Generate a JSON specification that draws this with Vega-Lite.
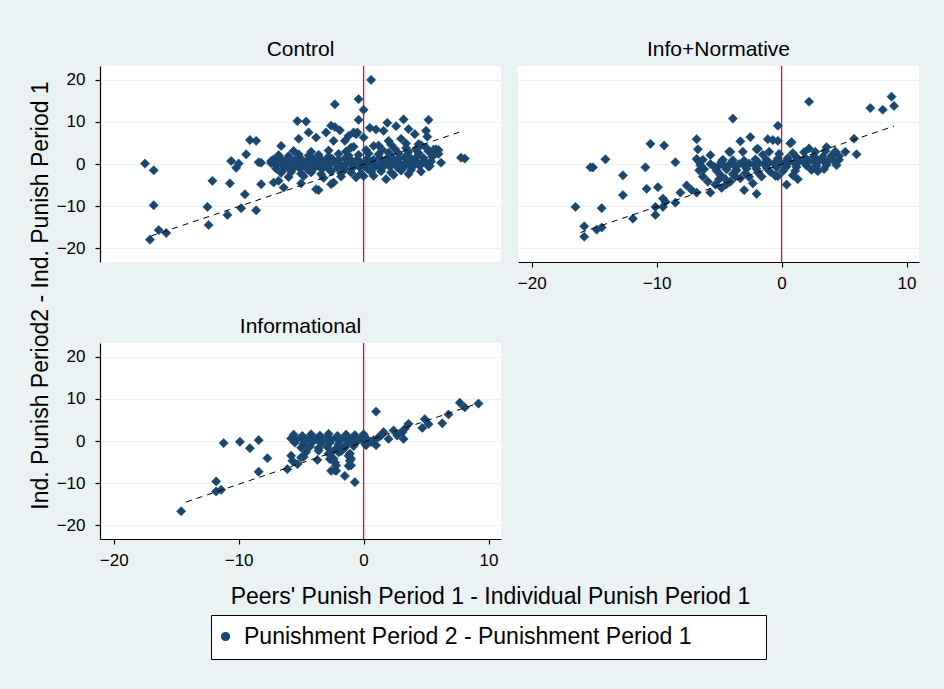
{
  "$schema": "https://vega.github.io/schema/vega-lite/v6.json",
  "background": "#EAF2F3",
  "padding": {"left": 28, "top": 39, "right": 25, "bottom": 31},
  "config": {
    "font": "Liberation Sans",
    "view": {"stroke": null, "fill": "white"},
    "title": {"font": "Liberation Sans", "fontSize": 21, "fontWeight": "normal", "color": "black", "baseline": "alphabetic", "offset": 5, "anchor": "middle", "frame": "group"},
    "axis": {"labelFont": "Liberation Sans", "labelFontSize": 17, "labelColor": "black", "domainColor": "black", "domainWidth": 1.2, "tickColor": "black", "tickWidth": 1.2, "tickSize": 5, "gridColor": "#EAF2F3", "gridWidth": 1.2, "titleFont": "Liberation Sans", "titleFontSize": 23, "titleFontWeight": "normal", "titleColor": "black"},
    "axisY": {"labelPadding": 10, "labelAngle": 0},
    "axisX": {"labelPadding": 8, "grid": false},
    "legend": {"orient": "none", "legendX": 111, "legendY": 549, "title": null, "symbolType": "circle", "symbolSize": 60, "symbolOffset": -7, "symbolFillColor": "#1A476F", "symbolStrokeColor": "#1A476F", "labelFont": "Liberation Sans", "labelFontSize": 23, "labelColor": "black", "labelOffset": 7, "labelLimit": 0, "padding": 10, "strokeColor": "black", "fillColor": "white"}
  },
  "datasets": {
    "control": [
      {"x":-17.5,"y":0.1},{"x":-16.8,"y":-1.5},{"x":-16.8,"y":-9.8},{"x":-16.4,"y":-15.7},{"x":-15.8,"y":-16.4},{"x":-17.1,"y":-18.0},
      {"x":-12.4,"y":-14.5},{"x":-12.5,"y":-10.2},{"x":-12.1,"y":-4.0},{"x":-10.9,"y":-12.1},{"x":-10.7,"y":-4.6},{"x":-10.6,"y":0.7},
      {"x":-10.2,"y":-0.9},{"x":-10.0,"y":0.1},{"x":-9.4,"y":2.3},{"x":-9.1,"y":5.7},{"x":-8.6,"y":5.5},{"x":-9.8,"y":-10.5},
      {"x":-9.5,"y":-7.2},{"x":-8.6,"y":-11.0},{"x":-8.4,"y":0.4},{"x":-8.2,"y":0.3},{"x":-8.2,"y":-4.8},{"x":-7.2,"y":-4.4},
      {"x":-6.8,"y":-4.0},{"x":-6.4,"y":-5.6},{"x":-7.4,"y":0.7},{"x":-6.6,"y":4.3},{"x":-5.3,"y":10.2},{"x":-4.6,"y":10.1},
      {"x":-5.2,"y":6.0},{"x":-3.8,"y":6.3},{"x":-4.4,"y":7.5},{"x":-3.0,"y":7.5},{"x":-2.6,"y":9.1},{"x":-2.3,"y":8.8},
      {"x":-1.9,"y":8.0},{"x":-2.4,"y":5.5},{"x":-2.3,"y":14.2},{"x":-0.4,"y":15.4},{"x":0.0,"y":12.9},{"x":-0.4,"y":10.5},
      {"x":0.6,"y":20.0},{"x":-1.2,"y":6.7},{"x":-0.8,"y":7.5},{"x":-0.6,"y":7.1},{"x":-1.0,"y":3.9},{"x":0.0,"y":6.3},
      {"x":0.5,"y":8.6},{"x":1.0,"y":8.2},{"x":1.6,"y":7.9},{"x":1.9,"y":9.8},{"x":2.6,"y":9.0},{"x":3.2,"y":10.6},
      {"x":3.6,"y":8.3},{"x":4.1,"y":7.1},{"x":5.2,"y":10.5},{"x":5.0,"y":7.9},{"x":5.1,"y":6.5},{"x":3.0,"y":6.0},
      {"x":2.0,"y":5.5},{"x":1.2,"y":4.4},{"x":4.4,"y":4.7},{"x":5.8,"y":3.5},{"x":5.3,"y":-0.5},{"x":6.2,"y":0.3},
      {"x":7.8,"y":1.5},{"x":8.1,"y":1.3},{"x":6.0,"y":3.3},{"x":1.8,"y":-3.6},{"x":0.0,"y":-2.9},{"x":-3.8,"y":-6.0},
      {"x":-3.6,"y":-6.2},{"x":-2.4,"y":-4.4},{"x":-2.6,"y":-4.8},{"x":-5.0,"y":-4.6},{"x":-1.5,"y":5.5},{"x":-0.5,"y":7.5},
      {"x":-7.4,"y":0.2},{"x":-7.0,"y":-0.3},{"x":-6.6,"y":0.1},{"x":-6.2,"y":0.4},{"x":-5.8,"y":-0.2},{"x":-5.4,"y":0.3},
      {"x":-5.0,"y":0.0},{"x":-4.6,"y":-0.4},{"x":-4.2,"y":0.2},{"x":-3.8,"y":0.0},{"x":-3.4,"y":0.3},{"x":-3.0,"y":-0.2},
      {"x":-2.6,"y":0.1},{"x":-2.2,"y":0.4},{"x":-1.8,"y":-0.3},{"x":-1.4,"y":0.0},{"x":-1.0,"y":0.2},{"x":-0.6,"y":-0.1},
      {"x":-0.2,"y":0.3},{"x":0.2,"y":0.0},{"x":0.6,"y":0.4},{"x":1.0,"y":-0.2},{"x":1.4,"y":0.1},{"x":1.8,"y":0.5},
      {"x":2.2,"y":0.0},{"x":2.6,"y":0.3},{"x":3.0,"y":-0.1},{"x":3.4,"y":0.4},{"x":3.8,"y":0.2},{"x":4.2,"y":0.6},
      {"x":4.6,"y":0.1},{"x":5.0,"y":0.3},
      {"x":-7.2,"y":1.1},{"x":-6.5,"y":0.9},{"x":-6.0,"y":1.3},{"x":-5.5,"y":1.0},{"x":-5.0,"y":1.2},{"x":-4.5,"y":0.8},
      {"x":-4.0,"y":1.1},{"x":-3.5,"y":1.4},{"x":-3.0,"y":0.9},{"x":-2.5,"y":1.2},{"x":-2.0,"y":1.0},{"x":-1.5,"y":1.3},
      {"x":-1.0,"y":0.9},{"x":-0.5,"y":1.1},{"x":0.3,"y":1.3},{"x":0.8,"y":1.0},{"x":1.3,"y":1.4},{"x":1.8,"y":1.1},
      {"x":2.3,"y":1.5},{"x":2.8,"y":1.2},{"x":3.3,"y":1.6},{"x":3.8,"y":1.3},{"x":4.3,"y":1.8},{"x":4.8,"y":1.4},{"x":5.5,"y":1.7},
      {"x":-7.0,"y":-1.1},{"x":-6.3,"y":-0.9},{"x":-5.7,"y":-1.2},{"x":-5.1,"y":-1.0},{"x":-4.5,"y":-1.3},{"x":-3.9,"y":-0.8},
      {"x":-3.3,"y":-1.1},{"x":-2.7,"y":-1.4},{"x":-2.1,"y":-0.9},{"x":-1.5,"y":-1.2},{"x":-0.9,"y":-1.0},{"x":-0.3,"y":-0.8},
      {"x":0.3,"y":-1.1},{"x":0.9,"y":-0.7},{"x":1.5,"y":-0.9},{"x":2.1,"y":-0.6},{"x":2.7,"y":-0.8},{"x":3.3,"y":-0.5},
      {"x":3.9,"y":-0.7},{"x":4.5,"y":-0.4},{"x":5.2,"y":-0.6},
      {"x":-6.8,"y":2.1},{"x":-6.0,"y":1.9},{"x":-5.2,"y":2.3},{"x":-4.4,"y":2.0},{"x":-3.6,"y":2.2},{"x":-2.8,"y":1.8},
      {"x":-2.0,"y":2.4},{"x":-1.2,"y":2.0},{"x":-0.4,"y":2.2},{"x":0.4,"y":2.5},{"x":1.2,"y":2.3},{"x":2.0,"y":2.7},
      {"x":2.8,"y":2.5},{"x":3.6,"y":2.9},{"x":4.4,"y":2.6},{"x":5.2,"y":3.0},{"x":6.0,"y":2.4},
      {"x":-6.6,"y":-2.1},{"x":-5.8,"y":-1.9},{"x":-5.0,"y":-2.3},{"x":-4.2,"y":-2.0},{"x":-3.4,"y":-2.4},{"x":-2.6,"y":-1.8},
      {"x":-1.8,"y":-2.2},{"x":-1.0,"y":-2.0},{"x":-0.2,"y":-2.3},{"x":0.6,"y":-1.9},{"x":1.4,"y":-1.7},{"x":2.2,"y":-2.0},
      {"x":3.0,"y":-1.6},{"x":3.8,"y":-1.4},{"x":4.6,"y":-1.8},
      {"x":-5.6,"y":3.1},{"x":-4.2,"y":2.9},{"x":-2.8,"y":3.2},{"x":-1.4,"y":3.0},{"x":0.2,"y":3.3},{"x":1.5,"y":3.4},
      {"x":2.5,"y":3.6},{"x":3.4,"y":3.8},{"x":4.2,"y":3.5},{"x":5.0,"y":3.9},{"x":5.6,"y":3.4},
      {"x":-6.0,"y":-3.1},{"x":-4.8,"y":-2.9},{"x":-3.2,"y":-3.3},{"x":-1.8,"y":-3.0},{"x":-0.6,"y":-3.2},{"x":0.8,"y":-2.8},
      {"x":2.4,"y":-2.6},{"x":3.6,"y":-2.4},
      {"x":0.8,"y":4.3},{"x":2.2,"y":4.6},{"x":3.4,"y":4.9},{"x":4.6,"y":4.5},{"x":-0.8,"y":4.1},
      {"x":-6.9,"y":0.6},{"x":-6.1,"y":-0.6},{"x":-5.3,"y":-0.5},{"x":-4.4,"y":0.5},{"x":-3.6,"y":-0.5},{"x":-2.8,"y":0.6},
      {"x":-2.0,"y":-0.5},{"x":-1.2,"y":0.6},{"x":-0.4,"y":-0.4},{"x":0.4,"y":0.7},{"x":1.2,"y":-0.4},{"x":2.0,"y":0.8},
      {"x":2.8,"y":-0.3},{"x":3.6,"y":0.9},{"x":4.4,"y":-0.1},{"x":5.4,"y":0.6}
    ],
    "infonorm": [
      {"x":-16.5,"y":-10.2},{"x":-15.8,"y":-14.8},{"x":-15.8,"y":-17.3},{"x":-15.3,"y":-0.8},{"x":-15.1,"y":-0.8},{"x":-14.8,"y":-15.6},
      {"x":-14.4,"y":-15.1},{"x":-14.4,"y":-10.5},{"x":-14.1,"y":1.1},{"x":-12.7,"y":-2.7},{"x":-12.7,"y":-7.4},{"x":-11.9,"y":-13.0},
      {"x":-10.9,"y":-0.8},{"x":-10.8,"y":-5.9},{"x":-10.5,"y":4.8},{"x":-10.1,"y":-10.2},{"x":-10.1,"y":-12.1},{"x":-9.9,"y":-5.5},
      {"x":-9.5,"y":-8.2},{"x":-9.3,"y":-9.0},{"x":-9.5,"y":-10.2},{"x":-9.4,"y":4.4},{"x":-8.5,"y":0.4},{"x":-8.5,"y":-9.2},
      {"x":-8.1,"y":-6.8},{"x":-7.6,"y":-5.1},{"x":-7.2,"y":-6.2},{"x":-6.8,"y":5.9},{"x":-6.7,"y":3.5},{"x":-6.8,"y":1.2},
      {"x":-6.6,"y":0.5},{"x":-6.5,"y":-0.3},{"x":-6.3,"y":1.0},{"x":-6.2,"y":-1.2},{"x":-6.6,"y":-1.5},{"x":-5.7,"y":2.1},
      {"x":-5.7,"y":0.0},{"x":-5.7,"y":-6.8},{"x":-6.8,"y":-6.8},{"x":-4.7,"y":1.0},{"x":-4.1,"y":2.9},{"x":-3.9,"y":10.8},
      {"x":-3.3,"y":5.4},{"x":-2.5,"y":6.4},{"x":-2.0,"y":3.5},{"x":-3.1,"y":2.9},{"x":-4.2,"y":2.9},{"x":-1.9,"y":3.6},
      {"x":-1.1,"y":5.9},{"x":-0.7,"y":5.7},{"x":-0.3,"y":5.5},{"x":-0.3,"y":9.1},{"x":-1.0,"y":2.9},{"x":0.8,"y":5.2},
      {"x":0.7,"y":4.9},{"x":2.2,"y":14.8},{"x":7.1,"y":13.3},{"x":8.1,"y":12.9},{"x":8.8,"y":16.0},{"x":9.0,"y":13.8},
      {"x":5.8,"y":6.0},{"x":6.0,"y":2.3},{"x":5.1,"y":2.9},{"x":3.6,"y":4.0},{"x":2.2,"y":3.7},{"x":0.4,"y":-4.9},
      {"x":-2.0,"y":-7.1},{"x":-3.0,"y":-6.2},{"x":-2.3,"y":-4.6},{"x":1.3,"y":-3.6},{"x":-0.3,"y":-2.9},{"x":2.9,"y":-1.7},
      {"x":-6.3,"y":-3.0},{"x":-5.9,"y":-4.2},{"x":-5.3,"y":-4.9},{"x":-4.8,"y":-5.7},{"x":-4.1,"y":-4.2},{"x":-3.7,"y":-3.0},
      {"x":-5.0,"y":-3.6},{"x":-4.4,"y":-4.8},
      {"x":-5.4,"y":-0.6},{"x":-5.0,"y":-0.3},{"x":-4.6,"y":-0.5},{"x":-4.2,"y":-0.2},{"x":-3.8,"y":-0.4},{"x":-3.4,"y":0.0},
      {"x":-3.0,"y":-0.3},{"x":-2.6,"y":0.1},{"x":-2.2,"y":-0.2},{"x":-1.8,"y":0.2},{"x":-1.4,"y":0.0},{"x":-1.0,"y":0.3},
      {"x":-0.6,"y":0.1},{"x":-0.2,"y":0.4},{"x":0.2,"y":0.2},{"x":0.6,"y":0.5},{"x":1.0,"y":0.3},{"x":1.4,"y":0.6},
      {"x":1.8,"y":0.4},{"x":2.2,"y":0.7},{"x":2.6,"y":0.5},{"x":3.0,"y":0.8},{"x":3.4,"y":0.6},{"x":3.8,"y":0.9},
      {"x":4.2,"y":0.7},{"x":4.6,"y":1.0},
      {"x":-4.8,"y":0.6},{"x":-3.9,"y":0.9},{"x":-3.0,"y":0.8},{"x":-2.1,"y":1.1},{"x":-1.2,"y":1.0},{"x":-0.3,"y":1.3},
      {"x":0.5,"y":1.4},{"x":1.2,"y":1.6},{"x":1.9,"y":1.5},{"x":2.6,"y":1.8},{"x":3.3,"y":1.7},{"x":4.0,"y":2.0},{"x":4.6,"y":1.9},
      {"x":-5.2,"y":-1.6},{"x":-4.4,"y":-1.3},{"x":-3.6,"y":-1.5},{"x":-2.8,"y":-1.1},{"x":-2.0,"y":-1.2},{"x":-1.2,"y":-0.9},
      {"x":-0.4,"y":-0.8},{"x":0.4,"y":-0.6},{"x":1.2,"y":-0.7},{"x":2.0,"y":-0.4},{"x":2.8,"y":-0.5},{"x":3.6,"y":-0.2},{"x":4.4,"y":-0.3},
      {"x":-1.5,"y":2.2},{"x":-0.2,"y":2.4},{"x":0.9,"y":2.6},{"x":1.8,"y":2.8},{"x":2.7,"y":2.9},{"x":3.5,"y":3.1},{"x":4.3,"y":3.0},
      {"x":-4.9,"y":-2.6},{"x":-3.9,"y":-2.4},{"x":-2.9,"y":-2.2},{"x":-1.9,"y":-2.0},{"x":-0.9,"y":-1.9},{"x":0.1,"y":-1.7},
      {"x":1.1,"y":-1.6},{"x":2.4,"y":-1.4},{"x":3.4,"y":-1.2},
      {"x":-4.5,"y":-3.6},{"x":-3.3,"y":-3.4},{"x":-2.6,"y":-3.1},{"x":-1.6,"y":-3.0},{"x":-0.5,"y":-2.8},{"x":0.9,"y":-2.7}
    ],
    "informational": [
      {"x":-14.6,"y":-16.7},{"x":-11.8,"y":-9.6},{"x":-11.8,"y":-12.0},{"x":-11.4,"y":-11.6},{"x":-11.2,"y":-0.5},{"x":-9.9,"y":-0.2},
      {"x":-9.1,"y":-1.7},{"x":-8.4,"y":0.2},{"x":-8.4,"y":-7.3},{"x":-7.7,"y":-4.1},{"x":-6.1,"y":-6.7},{"x":-5.3,"y":-5.5},
      {"x":-5.8,"y":-3.5},{"x":-5.7,"y":-4.7},{"x":-5.0,"y":-3.9},{"x":-3.7,"y":-4.5},{"x":-2.6,"y":-7.1},{"x":-2.2,"y":-7.1},
      {"x":-1.5,"y":-8.3},{"x":-0.7,"y":-9.8},{"x":-1.2,"y":-5.9},{"x":-1.1,"y":-4.7},{"x":-1.2,"y":-3.5},{"x":-2.7,"y":-4.3},
      {"x":-2.3,"y":-5.1},{"x":-2.0,"y":-2.7},{"x":-1.6,"y":-1.9},{"x":1.0,"y":7.0},{"x":1.0,"y":-1.0},{"x":4.7,"y":3.1},
      {"x":4.9,"y":5.2},{"x":5.2,"y":4.0},{"x":6.3,"y":4.2},{"x":6.8,"y":6.3},{"x":7.7,"y":9.1},{"x":8.1,"y":8.0},
      {"x":9.2,"y":8.9},{"x":3.3,"y":2.9},{"x":3.2,"y":0.5},{"x":2.7,"y":1.3},{"x":2.0,"y":0.5},{"x":1.4,"y":1.3},
      {"x":3.6,"y":4.1},{"x":2.4,"y":2.5},{"x":3.1,"y":2.1},{"x":1.6,"y":2.1},{"x":1.2,"y":0.9},{"x":0.8,"y":0.2},
      {"x":0.2,"y":-1.0},{"x":-2.3,"y":-7.0},{"x":-2.2,"y":-5.8},{"x":-1.0,"y":-5.8},{"x":-1.0,"y":-4.2},{"x":-1.1,"y":-3.0},
      {"x":-2.4,"y":-4.2},{"x":-2.8,"y":-3.0},{"x":-4.8,"y":-3.8},
      {"x":-5.6,"y":1.5},{"x":-4.9,"y":1.2},{"x":-4.2,"y":1.6},{"x":-3.5,"y":1.3},{"x":-2.8,"y":1.7},{"x":-2.1,"y":1.2},
      {"x":-1.4,"y":1.5},{"x":-0.7,"y":1.4},{"x":0.0,"y":1.6},
      {"x":-5.8,"y":0.6},{"x":-5.4,"y":0.3},{"x":-5.0,"y":0.7},{"x":-4.6,"y":0.4},{"x":-4.2,"y":0.8},{"x":-3.8,"y":0.5},
      {"x":-3.4,"y":0.2},{"x":-3.0,"y":0.6},{"x":-2.6,"y":0.3},{"x":-2.2,"y":0.7},{"x":-1.8,"y":0.4},{"x":-1.4,"y":0.8},
      {"x":-1.0,"y":0.5},{"x":-0.6,"y":0.2},{"x":-0.2,"y":0.6},{"x":0.3,"y":0.4},
      {"x":-5.5,"y":-0.4},{"x":-4.8,"y":-0.7},{"x":-4.1,"y":-0.3},{"x":-3.4,"y":-0.6},{"x":-2.7,"y":-0.4},{"x":-2.0,"y":-0.8},
      {"x":-1.3,"y":-0.5},{"x":-0.6,"y":-0.3},{"x":0.1,"y":-0.6},{"x":0.6,"y":-0.2},
      {"x":-5.0,"y":-1.6},{"x":-4.3,"y":-1.3},{"x":-3.6,"y":-1.7},{"x":-2.9,"y":-1.4},{"x":-2.2,"y":-1.8},{"x":-1.5,"y":-1.5},{"x":-0.8,"y":-1.2},
      {"x":-4.6,"y":-2.6},{"x":-3.6,"y":-2.3},{"x":-2.6,"y":-2.7},{"x":-1.8,"y":-2.4}
    ],
    "fit_control": [{"x":-17.0,"y":-17.1},{"x":8.0,"y":7.9}],
    "fit_infonorm": [{"x":-16.1,"y":-16.3},{"x":9.0,"y":9.0}],
    "fit_informational": [{"x":-14.2,"y":-14.5},{"x":9.0,"y":8.8}],
    "zero": [{"x":0}]
  },
  "columns": 2,
  "bounds": "flush",
  "align": "all",
  "spacing": {"row": 81, "column": 17},
  "concat": [
    {
      "title": {"text": "Control"},
      "width": 401, "height": 196,
      "layer": [
        {"data": {"name": "zero"}, "mark": {"type": "rule", "color": "#CC1040", "strokeWidth": 1.3},
         "encoding": {"x": {"field": "x", "type": "quantitative", "scale": {"domain": [-21.1, 11], "nice": false, "zero": false}, "axis": null}}},
        {"data": {"name": "control"}, "mark": {"type": "point", "shape": "diamond", "filled": true, "size": 85, "opacity": 1, "stroke": "#1A476F", "strokeWidth": 0.6},
         "encoding": {
           "x": {"field": "x", "type": "quantitative", "scale": {"domain": [-21.1, 11], "nice": false, "zero": false}, "axis": null},
           "y": {"field": "y", "type": "quantitative", "scale": {"domain": [-23.3, 23.3], "nice": false, "zero": false},
             "axis": {"values": [-20, -10, 0, 10, 20], "grid": true, "title": "Ind. Punish Period2 - Ind. Punish Period 1", "titleX": -60, "titleY": 229, "titleAngle": 270, "titleAlign": "center", "titleBaseline": "middle"}},
           "color": {"datum": "Punishment Period 2 - Punishment Period 1", "type": "nominal", "scale": {"range": ["#1A476F"]},
             "legend": {"labelExpr": "datum.label + '\u00a0\u00a0\u00a0\u00a0\u00a0\u00a0\u00a0\u00a0\u00a0\u00a0\u200b'"}}
         }},
        {"data": {"name": "fit_control"}, "mark": {"type": "line", "color": "black", "strokeWidth": 1, "strokeDash": [6, 5]},
         "encoding": {"x": {"field": "x", "type": "quantitative"}, "y": {"field": "y", "type": "quantitative"}}}
      ]
    },
    {
      "title": {"text": "Info+Normative"},
      "width": 401, "height": 196,
      "layer": [
        {"data": {"name": "zero"}, "mark": {"type": "rule", "color": "#CC1040", "strokeWidth": 1.3},
         "encoding": {"x": {"field": "x", "type": "quantitative", "scale": {"domain": [-21.1, 11], "nice": false, "zero": false}, "axis": {"values": [-20, -10, 0, 10], "title": null}}}},
        {"data": {"name": "infonorm"}, "mark": {"type": "point", "shape": "diamond", "filled": true, "size": 85, "opacity": 1, "stroke": "#1A476F", "strokeWidth": 0.6},
         "encoding": {
           "x": {"field": "x", "type": "quantitative"},
           "y": {"field": "y", "type": "quantitative", "scale": {"domain": [-23.3, 23.3], "nice": false, "zero": false}, "axis": {"values": [-20, -10, 0, 10, 20], "grid": true, "domain": false, "ticks": false, "labels": false, "title": null}},
           "color": {"datum": "Punishment Period 2 - Punishment Period 1", "type": "nominal", "scale": {"range": ["#1A476F"]},
             "legend": {"labelExpr": "datum.label + '\u00a0\u00a0\u00a0\u00a0\u00a0\u00a0\u00a0\u00a0\u00a0\u00a0\u200b'"}}
         }},
        {"data": {"name": "fit_infonorm"}, "mark": {"type": "line", "color": "black", "strokeWidth": 1, "strokeDash": [6, 5]},
         "encoding": {"x": {"field": "x", "type": "quantitative"}, "y": {"field": "y", "type": "quantitative"}}}
      ]
    },
    {
      "title": {"text": "Informational"},
      "width": 401, "height": 196,
      "layer": [
        {"data": {"name": "zero"}, "mark": {"type": "rule", "color": "#CC1040", "strokeWidth": 1.3},
         "encoding": {"x": {"field": "x", "type": "quantitative", "scale": {"domain": [-21.1, 11], "nice": false, "zero": false},
           "axis": {"values": [-20, -10, 0, 10], "title": "Peers' Punish Period 1 - Individual Punish Period 1", "titleX": 390, "titleY": 64, "titleBaseline": "alphabetic", "titleAlign": "center", "titleAnchor": null}}}},
        {"data": {"name": "informational"}, "mark": {"type": "point", "shape": "diamond", "filled": true, "size": 85, "opacity": 1, "stroke": "#1A476F", "strokeWidth": 0.6},
         "encoding": {
           "x": {"field": "x", "type": "quantitative"},
           "y": {"field": "y", "type": "quantitative", "scale": {"domain": [-23.3, 23.3], "nice": false, "zero": false},
             "axis": {"values": [-20, -10, 0, 10, 20], "grid": true, "title": null}},
           "color": {"datum": "Punishment Period 2 - Punishment Period 1", "type": "nominal", "scale": {"range": ["#1A476F"]},
             "legend": {"labelExpr": "datum.label + '\u00a0\u00a0\u00a0\u00a0\u00a0\u00a0\u00a0\u00a0\u00a0\u00a0\u200b'"}}
         }},
        {"data": {"name": "fit_informational"}, "mark": {"type": "line", "color": "black", "strokeWidth": 1, "strokeDash": [6, 5]},
         "encoding": {"x": {"field": "x", "type": "quantitative"}, "y": {"field": "y", "type": "quantitative"}}}
      ]
    }
  ]
}
